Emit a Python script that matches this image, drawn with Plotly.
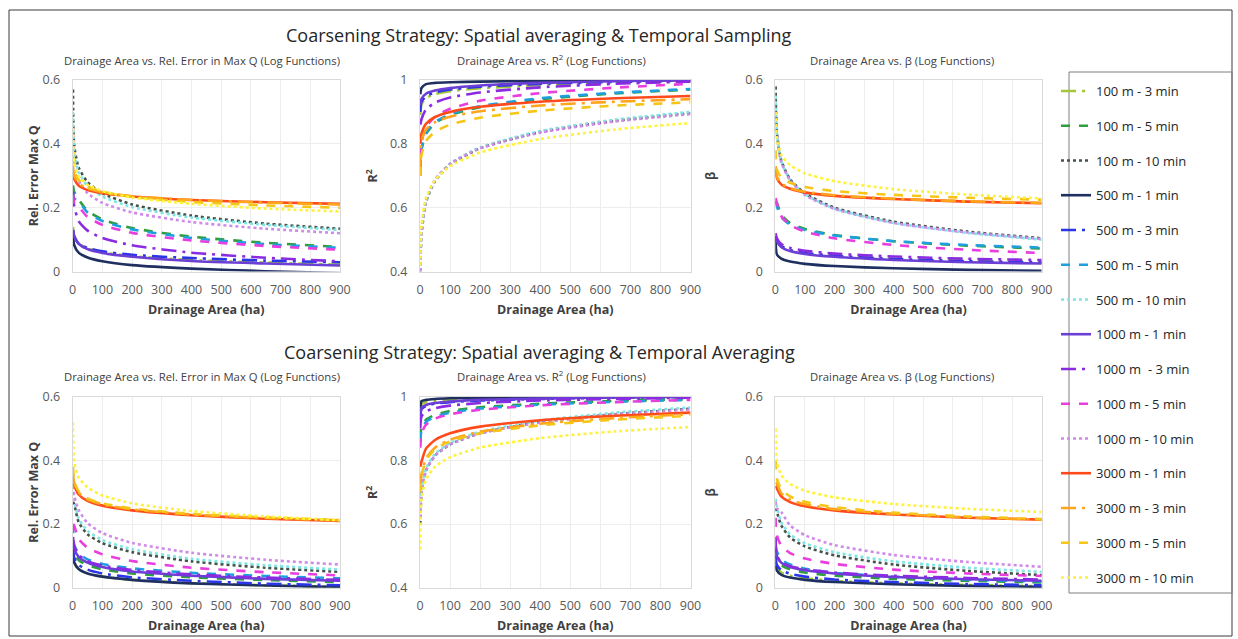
import plotly.graph_objects as go

# ---------------- data ----------------
AREA_X = [1, 5, 20, 50, 100, 200, 400, 650, 900]

SERIES_NAMES = ["100 m - 3 min", "100 m - 5 min", "100 m - 10 min",
                "500 m - 1 min", "500 m - 3 min", "500 m - 5 min", "500 m - 10 min",
                "1000 m - 1 min", "1000 m  - 3 min", "1000 m - 5 min", "1000 m - 10 min",
                "3000 m - 1 min", "3000 m - 3 min", "3000 m - 5 min", "3000 m - 10 min"]

# Coarsening: spatial averaging & temporal sampling
RE_SAMP = [
    [0.14, 0.112, 0.088, 0.072, 0.06, 0.048, 0.036, 0.028, 0.022],
    [0.27, 0.25, 0.226, 0.19, 0.163, 0.136, 0.109, 0.09, 0.077],
    [0.57, 0.396, 0.326, 0.28, 0.245, 0.21, 0.175, 0.15, 0.134],
    [0.12, 0.083, 0.059, 0.044, 0.032, 0.020, 0.009, 0.001, -0.005],
    [0.13, 0.109, 0.088, 0.074, 0.063, 0.052, 0.042, 0.034, 0.029],
    [0.25, 0.23, 0.22, 0.185, 0.158, 0.132, 0.105, 0.086, 0.074],
    [0.5, 0.378, 0.312, 0.268, 0.235, 0.202, 0.169, 0.146, 0.13],
    [0.13, 0.111, 0.087, 0.070, 0.058, 0.046, 0.033, 0.025, 0.019],
    [0.25, 0.205, 0.158, 0.128, 0.105, 0.082, 0.059, 0.043, 0.032],
    [0.24, 0.215, 0.203, 0.171, 0.146, 0.121, 0.097, 0.080, 0.068],
    [0.45, 0.345, 0.285, 0.245, 0.215, 0.185, 0.155, 0.134, 0.12],
    [0.3, 0.29, 0.269, 0.255, 0.245, 0.235, 0.224, 0.217, 0.212],
    [0.33, 0.3, 0.276, 0.26, 0.248, 0.236, 0.224, 0.216, 0.21],
    [0.36, 0.318, 0.287, 0.266, 0.25, 0.234, 0.218, 0.207, 0.2],
    [0.45, 0.339, 0.299, 0.272, 0.252, 0.232, 0.212, 0.197, 0.188],
]
R2_SAMP = [
    [0.89, 0.924, 0.943, 0.956, 0.965, 0.974, 0.984, 0.991, 0.995],
    [0.72, 0.781, 0.831, 0.865, 0.89, 0.915, 0.94, 0.958, 0.97],
    [0.4, 0.515, 0.617, 0.684, 0.735, 0.786, 0.837, 0.872, 0.896],
    [0.955, 0.975, 0.987, 0.991, 0.993, 0.995, 0.997, 0.998, 0.999],
    [0.9, 0.932, 0.949, 0.961, 0.97, 0.979, 0.988, 0.994, 0.998],
    [0.72, 0.785, 0.835, 0.868, 0.893, 0.918, 0.943, 0.96, 0.972],
    [0.4, 0.517, 0.619, 0.687, 0.738, 0.789, 0.84, 0.876, 0.9],
    [0.92, 0.941, 0.957, 0.967, 0.975, 0.983, 0.991, 0.996, 1.0],
    [0.86, 0.877, 0.908, 0.929, 0.945, 0.961, 0.977, 0.988, 0.995],
    [0.7, 0.804, 0.853, 0.885, 0.91, 0.935, 0.959, 0.976, 0.988],
    [0.4, 0.524, 0.623, 0.688, 0.737, 0.786, 0.835, 0.87, 0.893],
    [0.8, 0.832, 0.863, 0.884, 0.9, 0.916, 0.932, 0.943, 0.95],
    [0.72, 0.81, 0.845, 0.868, 0.885, 0.902, 0.92, 0.932, 0.94],
    [0.7, 0.765, 0.809, 0.838, 0.86, 0.882, 0.904, 0.92, 0.93],
    [0.42, 0.546, 0.631, 0.687, 0.73, 0.773, 0.815, 0.845, 0.865],
]
BETA_SAMP = [
    [0.11, 0.096, 0.078, 0.067, 0.058, 0.049, 0.04, 0.034, 0.03],
    [0.22, 0.216, 0.178, 0.152, 0.133, 0.114, 0.095, 0.081, 0.072],
    [0.58, 0.437, 0.348, 0.289, 0.245, 0.2, 0.156, 0.125, 0.104],
    [0.1, 0.054, 0.04, 0.031, 0.024, 0.017, 0.01, 0.005, 0.002],
    [0.11, 0.099, 0.08, 0.067, 0.058, 0.049, 0.039, 0.032, 0.028],
    [0.22, 0.205, 0.17, 0.147, 0.13, 0.113, 0.095, 0.083, 0.075],
    [0.55, 0.436, 0.346, 0.287, 0.242, 0.197, 0.152, 0.121, 0.1],
    [0.11, 0.096, 0.077, 0.064, 0.055, 0.046, 0.036, 0.029, 0.025],
    [0.12, 0.105, 0.086, 0.074, 0.065, 0.056, 0.047, 0.04, 0.036],
    [0.23, 0.216, 0.174, 0.146, 0.125, 0.104, 0.083, 0.068, 0.058],
    [0.5, 0.43, 0.343, 0.285, 0.24, 0.196, 0.152, 0.122, 0.102],
    [0.32, 0.294, 0.273, 0.259, 0.248, 0.237, 0.227, 0.219, 0.214],
    [0.33, 0.298, 0.276, 0.261, 0.25, 0.239, 0.228, 0.22, 0.215],
    [0.38, 0.32, 0.294, 0.278, 0.265, 0.252, 0.24, 0.231, 0.225],
    [0.5, 0.416, 0.366, 0.333, 0.308, 0.283, 0.258, 0.241, 0.229],
]

# Coarsening: spatial averaging & temporal averaging
RE_AVG = [
    [0.1, 0.079, 0.058, 0.045, 0.035, 0.025, 0.015, 0.008, 0.003],
    [0.15, 0.113, 0.087, 0.071, 0.058, 0.045, 0.033, 0.024, 0.018],
    [0.27, 0.263, 0.206, 0.168, 0.14, 0.112, 0.083, 0.063, 0.05],
    [0.11, 0.08, 0.059, 0.045, 0.035, 0.025, 0.014, 0.007, 0.002],
    [0.13, 0.095, 0.072, 0.057, 0.045, 0.033, 0.022, 0.013, 0.008],
    [0.2, 0.136, 0.108, 0.089, 0.075, 0.061, 0.047, 0.037, 0.03],
    [0.3, 0.277, 0.218, 0.179, 0.15, 0.121, 0.091, 0.071, 0.057],
    [0.15, 0.124, 0.097, 0.079, 0.065, 0.051, 0.038, 0.028, 0.022],
    [0.16, 0.131, 0.103, 0.084, 0.07, 0.056, 0.042, 0.032, 0.025],
    [0.2, 0.195, 0.153, 0.126, 0.105, 0.084, 0.063, 0.049, 0.039],
    [0.32, 0.29, 0.245, 0.203, 0.172, 0.141, 0.11, 0.088, 0.073],
    [0.34, 0.323, 0.293, 0.273, 0.258, 0.243, 0.228, 0.217, 0.21],
    [0.36, 0.33, 0.299, 0.278, 0.262, 0.246, 0.23, 0.219, 0.212],
    [0.38, 0.336, 0.303, 0.281, 0.265, 0.249, 0.232, 0.221, 0.213],
    [0.52, 0.396, 0.347, 0.315, 0.29, 0.265, 0.241, 0.224, 0.212],
]
R2_AVG = [
    [0.95, 0.976, 0.983, 0.987, 0.99, 0.993, 0.996, 0.999, 1.0],
    [0.87, 0.905, 0.928, 0.943, 0.955, 0.967, 0.978, 0.987, 0.992],
    [0.6, 0.697, 0.768, 0.815, 0.85, 0.885, 0.921, 0.945, 0.962],
    [0.96, 0.986, 0.99, 0.993, 0.995, 0.997, 0.998, 0.999, 1.0],
    [0.93, 0.961, 0.971, 0.978, 0.983, 0.988, 0.993, 0.997, 0.999],
    [0.86, 0.895, 0.921, 0.937, 0.95, 0.963, 0.975, 0.984, 0.99],
    [0.65, 0.704, 0.774, 0.82, 0.855, 0.89, 0.925, 0.95, 0.966],
    [0.93, 0.965, 0.974, 0.98, 0.985, 0.99, 0.994, 0.998, 1.0],
    [0.9, 0.938, 0.954, 0.964, 0.972, 0.98, 0.988, 0.993, 0.997],
    [0.84, 0.884, 0.912, 0.931, 0.945, 0.959, 0.973, 0.983, 0.99],
    [0.62, 0.7, 0.769, 0.815, 0.85, 0.885, 0.919, 0.944, 0.96],
    [0.78, 0.796, 0.837, 0.864, 0.885, 0.906, 0.926, 0.94, 0.95],
    [0.72, 0.756, 0.806, 0.84, 0.865, 0.89, 0.915, 0.933, 0.945],
    [0.7, 0.751, 0.801, 0.835, 0.86, 0.885, 0.91, 0.928, 0.94],
    [0.52, 0.68, 0.74, 0.78, 0.81, 0.84, 0.87, 0.891, 0.905],
]
BETA_AVG = [
    [0.08, 0.064, 0.048, 0.038, 0.03, 0.022, 0.014, 0.009, 0.005],
    [0.12, 0.09, 0.071, 0.058, 0.048, 0.038, 0.028, 0.022, 0.017],
    [0.25, 0.24, 0.196, 0.158, 0.13, 0.102, 0.073, 0.053, 0.04],
    [0.07, 0.055, 0.041, 0.032, 0.025, 0.018, 0.011, 0.006, 0.003],
    [0.1, 0.072, 0.055, 0.044, 0.035, 0.026, 0.018, 0.012, 0.008],
    [0.13, 0.115, 0.089, 0.073, 0.06, 0.047, 0.035, 0.026, 0.02],
    [0.28, 0.255, 0.206, 0.168, 0.14, 0.112, 0.083, 0.063, 0.05],
    [0.12, 0.1, 0.079, 0.065, 0.055, 0.045, 0.034, 0.027, 0.022],
    [0.16, 0.102, 0.081, 0.068, 0.058, 0.048, 0.038, 0.031, 0.026],
    [0.22, 0.167, 0.132, 0.109, 0.092, 0.075, 0.057, 0.045, 0.037],
    [0.27, 0.25, 0.238, 0.196, 0.165, 0.134, 0.103, 0.081, 0.066],
    [0.32, 0.313, 0.287, 0.269, 0.256, 0.243, 0.23, 0.22, 0.214],
    [0.33, 0.327, 0.297, 0.277, 0.262, 0.247, 0.232, 0.221, 0.214],
    [0.4, 0.344, 0.31, 0.287, 0.27, 0.253, 0.236, 0.224, 0.216],
    [0.5, 0.396, 0.354, 0.326, 0.305, 0.284, 0.263, 0.248, 0.238],
]

X_TICKS = [0, 100, 200, 300, 400, 500, 600, 700, 800, 900]

# ---------------- styling ----------------
COLORS = ["#A4C639", "#2E9E3E", "#44544A",
          "#1F3060", "#2B35E8", "#1E9FE0", "#7FE5E5",
          "#6B3FD6", "#8A2BE2", "#E83EDD", "#D08BEA",
          "#FF4A1C", "#FFA41B", "#F5C518", "#FFF23A"]
DASHES = ["longdashdot", "dash", "dot",
          "solid", "longdashdot", "dash", "dot",
          "solid", "longdashdot", "dash", "dot",
          "solid", "longdashdot", "dash", "dot"]

W, H = 1238, 639
FONT = "Open Sans"
TXT = "#404040"


def px_x(p):
    return p / W


def px_y(p):
    return 1 - p / H


# plot areas in pixels: (x0, x1, ytop, ybottom)
PANELS = [
    (RE_SAMP, (72.7, 340.0, 80.0, 271.5), [0, 0.6], "Rel. Error Max Q", 1),
    (R2_SAMP, (420.0, 690.5, 80.0, 271.5), [0.4, 1.0], "R<sup>2</sup>", 9),
    (BETA_SAMP, (775.3, 1041.7, 80.0, 271.5), [0, 0.6], "β", 26),
    (RE_AVG, (72.7, 340.0, 396.7, 587.8), [0, 0.6], "Rel. Error Max Q", 1),
    (R2_AVG, (420.0, 690.5, 396.7, 587.8), [0.4, 1.0], "R<sup>2</sup>", 9),
    (BETA_AVG, (775.3, 1041.7, 396.7, 587.8), [0, 0.6], "β", 26),
]
YTICKS = {0: [0, 0.2, 0.4, 0.6], 1: [0.4, 0.6, 0.8, 1.0]}

fig = go.Figure()
layout = {}
for i, (data, (x0, x1, yt, yb), yr, ytitle, ystand) in enumerate(PANELS):
    n = i + 1
    xa = "x" if n == 1 else f"x{n}"
    ya = "y" if n == 1 else f"y{n}"
    for j, name in enumerate(SERIES_NAMES):
        fig.add_trace(go.Scatter(
            x=AREA_X, y=data[j], mode="lines", name=name,
            legendgroup=name, showlegend=(i == 0),
            line=dict(color=COLORS[j], dash=DASHES[j], width=2.6, shape="spline", smoothing=0.6),
            xaxis=xa, yaxis=ya,
        ))
    xkey = "xaxis" if n == 1 else f"xaxis{n}"
    ykey = "yaxis" if n == 1 else f"yaxis{n}"
    layout[xkey] = dict(
        domain=[px_x(x0), px_x(x1)], anchor=ya, range=[0, 900],
        tickvals=X_TICKS, showgrid=True, gridcolor="#EDEDED", gridwidth=1,
        showline=True, linecolor="#D9D9D9", mirror=True, zeroline=False,
        ticks="", ticklabelstandoff=6,
        tickfont=dict(family=FONT, size=12.5, color="#595959"),
        title=dict(text="<b>Drainage Area (ha)</b>", standoff=8,
                   font=dict(family=FONT, size=12.5, color=TXT)),
        automargin=False, fixedrange=True,
    )
    layout[ykey] = dict(
        domain=[px_y(yb), px_y(yt)], anchor=xa, range=yr,
        tickvals=YTICKS[1 if yr[0] == 0.4 else 0],
        showgrid=True, gridcolor="#EDEDED", gridwidth=1,
        showline=True, linecolor="#D9D9D9", mirror=True, zeroline=False,
        ticks="", ticklabelstandoff=9,
        tickfont=dict(family=FONT, size=12.5, color="#595959"),
        title=dict(text=f"<b>{ytitle}</b>", standoff=ystand,
                   font=dict(family=FONT, size=12.5, color=TXT)),
        automargin=False, fixedrange=True,
    )

annotations = []
for ytxt, txt in [(35, "Coarsening Strategy: Spatial averaging & Temporal Sampling"),
                  (352, "Coarsening Strategy: Spatial averaging & Temporal Averaging")]:
    annotations.append(dict(x=px_x(539), y=px_y(ytxt), xref="paper", yref="paper",
                            text=txt, showarrow=False, xanchor="center", yanchor="middle",
                            font=dict(family=FONT, size=18, color="#262626")))
for ytxt in (60, 376):
    for cx, txt in [(202, "Drainage Area vs. Rel. Error in Max Q (Log Functions)"),
                    (551, "Drainage Area vs. R<sup>2</sup> (Log Functions)"),
                    (902, "Drainage Area vs. β (Log Functions)")]:
        annotations.append(dict(x=px_x(cx), y=px_y(ytxt), xref="paper", yref="paper",
                                text=txt, showarrow=False, xanchor="center", yanchor="middle",
                                font=dict(family=FONT, size=11.3, color=TXT)))

shapes = [
    dict(type="rect", xref="paper", yref="paper", x0=px_x(9), x1=px_x(1232),
         y0=px_y(636), y1=px_y(10), line=dict(color="#3A3A3A", width=1)),
    dict(type="rect", xref="paper", yref="paper", x0=px_x(1069), x1=px_x(1232),
         y0=px_y(593), y1=px_y(72), line=dict(color="#7F7F7F", width=1)),
]

fig.update_layout(
    width=W, height=H, margin=dict(l=0, r=0, t=0, b=0),
    paper_bgcolor="white", plot_bgcolor="white",
    font=dict(family=FONT, color=TXT),
    annotations=annotations, shapes=shapes,
    legend=dict(x=px_x(1056), y=px_y(76), xanchor="left", yanchor="top",
                traceorder="grouped", tracegroupgap=14.85,
                bgcolor="rgba(0,0,0,0)", borderwidth=0,
                font=dict(family=FONT, size=13, color="#262626")),
    **layout,
)

fig.write_html("out.html", config={"displayModeBar": False},
               post_script="document.body.style.margin='0px';")
